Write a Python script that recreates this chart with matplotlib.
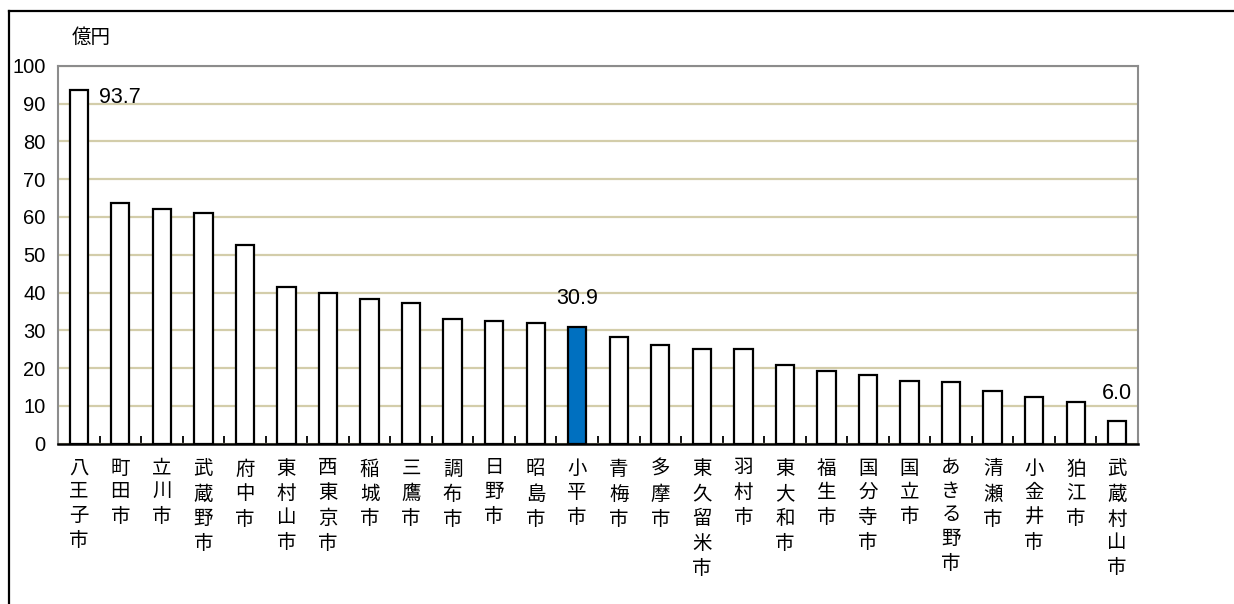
import matplotlib
matplotlib.use('Agg')
import matplotlib.pyplot as plt
from matplotlib.lines import Line2D
import numpy as np

plt.rcParams['font.family'] = ['Liberation Sans', 'Noto Sans CJK JP', 'DejaVu Sans']

# data (億円)
cities = ['八王子市', '町田市', '立川市', '武蔵野市', '府中市', '東村山市', '西東京市',
          '稲城市', '三鷹市', '調布市', '日野市', '昭島市', '小平市', '青梅市', '多摩市',
          '東久留米市', '羽村市', '東大和市', '福生市', '国分寺市', '国立市', 'あきる野市',
          '清瀬市', '小金井市', '狛江市', '武蔵村山市']
values = [93.7, 63.6, 62.1, 60.9, 52.6, 41.5, 40.0, 38.3, 37.2, 33.0, 32.5, 32.0, 30.9,
          28.2, 26.2, 25.1, 25.1, 20.9, 19.2, 18.2, 16.7, 16.2, 14.0, 12.4, 10.9, 6.0]
highlight = '小平市'
unit = '億円'

fig = plt.figure(figsize=(12.34, 6.04), dpi=100)
ax = fig.add_axes([58 / 1234, 1 - 443.7 / 604, 1080 / 1234, (443.7 - 65.7) / 604])

x = np.arange(len(cities))
colors = ['#0070C0' if c == highlight else 'white' for c in cities]
bw = 0.44
bars = ax.bar(x, values, width=bw, color=colors, edgecolor='black', linewidth=1.6, zorder=3)

ax.set_xlim(-0.5, len(cities) - 0.5)
ax.set_ylim(0, 100)
ax.set_yticks(np.arange(0, 101, 10))
ax.yaxis.grid(True, color='#D3CDAA', linewidth=1.6, zorder=0)
ax.tick_params(axis='y', length=0, pad=9, labelsize=14.5)

ax.set_xticks(x)
ax.set_xticklabels(['\n'.join(c) for c in cities], fontsize=14, linespacing=1.5, va='top')
ax.set_xticks(np.arange(-0.5, len(cities), 1), minor=True)
ax.tick_params(axis='x', which='major', length=0, pad=12)
ax.tick_params(axis='x', which='minor', direction='in', length=6, width=1.3, color='black')

for s in ['top', 'left', 'right']:
    ax.spines[s].set_color('#8C8C8C')
    ax.spines[s].set_linewidth(1.5)
ax.spines['bottom'].set_color('black')
ax.spines['bottom'].set_linewidth(1.8)
ax.spines['bottom'].set_zorder(4)

# value labels
i0 = 0
ax.annotate(f'{values[i0]:.1f}', xy=(x[i0] + bw / 2, values[i0]), xytext=(11, -8),
            textcoords='offset pixels', ha='left', va='center', fontsize=15.5)
for c in [highlight, cities[-1]]:
    i = cities.index(c)
    ax.annotate(f'{values[i]:.1f}', xy=(x[i], values[i]), xytext=(0, 28),
                textcoords='offset pixels', ha='center', va='center', fontsize=15.5)

fig.text(72 / 1234, 1 - 38 / 604, unit, fontsize=14, ha='left', va='center')

# outer frame (top and left only visible)
fig.add_artist(Line2D([9 / 1234, 1], [1 - 10.5 / 604] * 2, color='black', linewidth=1.6,
                      transform=fig.transFigure))
fig.add_artist(Line2D([9 / 1234] * 2, [0, 1 - 10.5 / 604], color='black', linewidth=1.6,
                      transform=fig.transFigure))

fig.savefig('out.png', dpi=100)
